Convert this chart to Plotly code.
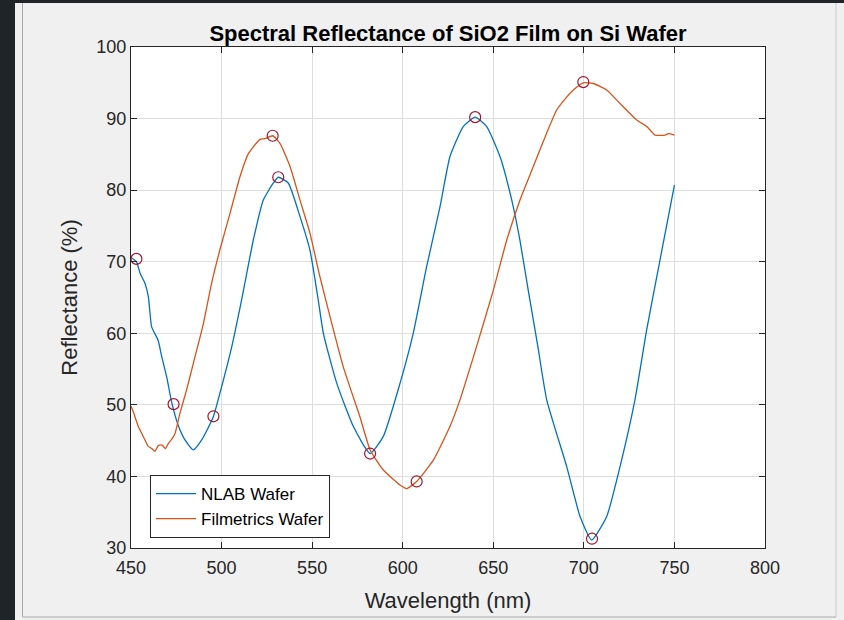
import plotly.graph_objects as go

# NLAB Wafer (blue)
nlab_x = [450, 453, 455, 457.7, 459.6, 461.4, 465, 467, 469.7, 472.5, 476, 479.8, 484.4, 489,
          495.4, 500, 505.6, 511, 517.5, 523, 528.6, 531.3, 536.8, 543.3, 548.8, 553.4, 556.2,
          563.6, 572.7, 582, 589.3, 598.5, 605.8, 613.2, 620.6, 626.1, 633.5, 640, 646.3, 653.7,
          660.2, 664.7, 669.3, 674.5, 679.5, 690.5, 697.9, 704.3, 712.6, 720, 728.2, 734.7, 742, 750]
nlab_y = [70.6, 70.0, 68.4, 67.0, 65.1, 60.9, 59.0, 56.7, 53.9, 50.3, 47.2, 45.1, 43.7, 45.1,
          48.3, 52.5, 58.1, 64.6, 73.0, 78.6, 81.0, 81.8, 81.0, 76.3, 71.6, 64.6, 60.0,
          53.0, 47.0, 43.2, 45.6, 53.0, 60.0, 69.3, 77.7, 84.7, 88.9, 90.2, 88.9, 84.7,
          78.6, 73.0, 66.0, 58.3, 50.7, 41.4, 34.4, 31.1, 34.4, 41.4, 50.7, 60.5, 70.2, 80.7]

# Filmetrics Wafer (orange)
film_x = [450, 451.3, 454, 457.7, 459.5, 461.4, 463.2, 465, 467, 469, 470.6, 472.5, 474.3, 477,
          480.7, 485.3, 490, 494.5, 499, 504.7, 510.2, 514.8, 521.2, 524, 528.2, 532.3, 537.8,
          543.3, 548.8, 554.3, 559.9, 567.2, 576.4, 582, 589.3, 598.5, 602.2, 607.7, 617, 626.1,
          631.6, 640, 650, 657.4, 664.7, 672.1, 679.5, 685, 690.5, 694.2, 699.7, 705.2, 712.6,
          720, 729.2, 734.7, 739.3, 744.8, 746.6, 750]
film_y = [49.8, 49.0, 47.0, 45.1, 44.2, 43.9, 43.5, 44.3, 44.4, 43.9, 44.6, 45.2, 46.0, 48.8,
          52.1, 56.7, 61.4, 67.0, 71.6, 76.8, 81.9, 85.1, 87.1, 87.2, 87.6, 86.5, 83.3,
          78.6, 74.0, 67.9, 62.3, 55.3, 48.3, 43.7, 40.9, 38.8, 38.3, 39.3, 42.3, 47.0,
          50.7, 57.5, 66.0, 73.0, 78.6, 83.3, 88.0, 91.2, 93.0, 94.0, 95.0, 94.9, 94.0,
          92.1, 89.8, 88.9, 87.7, 87.7, 87.9, 87.7]

# Peak / valley markers
mk_x = [453, 473.5, 495.5, 528.2, 531.3, 582, 607.7, 640, 699.7, 704.5]
mk_y = [70.4, 50.1, 48.4, 87.6, 81.8, 43.2, 39.3, 90.2, 95.1, 31.3]

x_ticks = [450, 500, 550, 600, 650, 700, 750, 800]
y_ticks = [30, 40, 50, 60, 70, 80, 90, 100]

FONT = "Liberation Sans, Arial, Helvetica, sans-serif"
AX = "#262626"

fig = go.Figure()
fig.add_trace(go.Scatter(x=nlab_x, y=nlab_y, mode="lines", name="NLAB Wafer",
                         line=dict(color="#0072BD", width=1.3, shape="spline", smoothing=0.5)))
fig.add_trace(go.Scatter(x=film_x, y=film_y, mode="lines", name="Filmetrics Wafer",
                         line=dict(color="#D95319", width=1.3, shape="spline", smoothing=0.5)))
fig.add_trace(go.Scatter(x=mk_x, y=mk_y, mode="markers", showlegend=False,
                         marker=dict(symbol="circle-open", size=11,
                                     line=dict(color="#A2142F", width=1.2), color="#A2142F")))

# window frame decorations (paper coords relative to plot area)
L, R, T, B = 131, 765, 47, 548
W, H = R - L, B - T
def px(x):
    return (x - L) / W
def py(y):
    return (B - y) / H

shapes = [
    dict(type="rect", xref="paper", yref="paper", x0=px(0), x1=px(15), y0=py(620), y1=py(0),
         fillcolor="#1f2429", line=dict(width=0), layer="below"),
    dict(type="rect", xref="paper", yref="paper", x0=px(0), x1=px(844), y0=py(3), y1=py(0),
         fillcolor="#1f2429", line=dict(width=0), layer="below"),
    dict(type="line", xref="paper", yref="paper", x0=px(22.5), x1=px(22.5), y0=py(617), y1=py(3),
         line=dict(color="#a8a8a8", width=1), layer="below"),
    dict(type="line", xref="paper", yref="paper", x0=px(22.5), x1=px(836), y0=py(617), y1=py(617),
         line=dict(color="#a8a8a8", width=1), layer="below"),
    dict(type="line", xref="paper", yref="paper", x0=px(836), x1=px(836), y0=py(617), y1=py(3),
         line=dict(color="#c8c8c8", width=1), layer="below"),
]

fig.update_layout(
    width=844, height=620,
    margin=dict(l=L, r=844 - R, t=T, b=620 - B),
    paper_bgcolor="#f0f0f0",
    plot_bgcolor="white",
    font=dict(family=FONT, color=AX, size=18),
    title=dict(text="Spectral Reflectance of SiO2 Film on Si Wafer",
               x=px(448), xref="paper", xanchor="center",
               y=1 - 33 / 620, yref="container", yanchor="middle",
               font=dict(family=FONT, size=22, color="#000000", weight="bold")),
    showlegend=True,
    legend=dict(x=px(150), y=py(475), xanchor="left", yanchor="top",
                bgcolor="white", bordercolor=AX, borderwidth=1,
                font=dict(family=FONT, size=17, color="#000000"),
                tracegroupgap=0, itemwidth=40),
    shapes=shapes,
)
fig.update_xaxes(range=[450, 800], tickvals=x_ticks, ticktext=[str(v) for v in x_ticks],
                 showline=True, linecolor=AX, linewidth=1, mirror="ticks",
                 ticks="inside", ticklen=6, tickcolor=AX, ticklabelstandoff=3,
                 showgrid=True, gridcolor="#dedede", gridwidth=1, zeroline=False,
                 tickfont=dict(size=18, color=AX),
                 title=dict(text="Wavelength (nm)", font=dict(size=22, color=AX), standoff=16))
fig.update_yaxes(range=[30, 100], tickvals=y_ticks, ticktext=[str(v) for v in y_ticks],
                 showline=True, linecolor=AX, linewidth=1, mirror="ticks",
                 ticks="inside", ticklen=6, tickcolor=AX,
                 showgrid=True, gridcolor="#dedede", gridwidth=1, zeroline=False,
                 tickfont=dict(size=18, color=AX),
                 title=dict(text="Reflectance (%)", font=dict(size=22, color=AX), standoff=12))

fig.write_html("out.html")
